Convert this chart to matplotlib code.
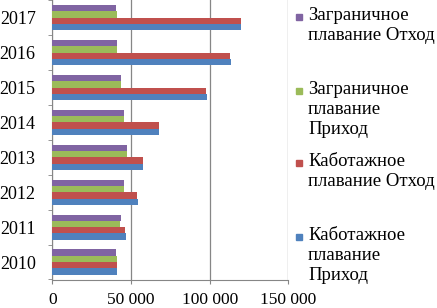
import numpy as np
import matplotlib
matplotlib.use("Agg")
import matplotlib.pyplot as plt
from matplotlib.patches import Rectangle

# ===== data =====
years = ["2010", "2011", "2012", "2013", "2014", "2015", "2016", "2017"]
kab_prihod = [41300, 46800, 54200, 57400, 67900, 98500, 113300, 119700]
kab_othod = [41300, 46400, 54000, 57400, 67500, 97700, 113000, 120000]
zag_prihod = [41000, 43000, 45600, 47700, 45600, 43400, 41000, 41000]
zag_othod = [40500, 43500, 45800, 47700, 45600, 43900, 41300, 40500]

series = [
    ("Каботажное\nплавание\nПриход", kab_prihod, "#4F81BD"),
    ("Каботажное\nплавание Отход", kab_othod, "#C0504D"),
    ("Заграничное\nплавание\nПриход", zag_prihod, "#9BBB59"),
    ("Заграничное\nплавание Отход", zag_othod, "#8064A2"),
]

plt.rcParams['font.family'] = ['Liberation Serif', 'DejaVu Serif']

W, H = 437, 308
fig = plt.figure(figsize=(W / 100, H / 100), dpi=100)
ax = fig.add_axes([52.3 / W, 1 - 279.5 / H, 236 / W, 279.2 / H])

y = np.arange(len(years))
h = 0.18
for k, (label, vals, color) in enumerate(series):
    ax.barh(y + (k - 1.5) * h, vals, height=h, color=color, zorder=3)

ax.set_xlim(0, 150000)
ax.set_ylim(-0.5, len(years) - 0.5)
ax.set_xticks([0, 50000, 100000, 150000])
ax.set_xticklabels(["0", "50 000", "100 000", "150 000"], fontsize=12.5)
ax.set_yticks(y)
ax.set_yticklabels(years, fontsize=13)
ax.set_yticks(np.arange(-0.5, len(years), 1), minor=True)
ax.tick_params(axis='y', which='major', length=0, pad=12)
ax.tick_params(axis='y', which='minor', length=3, color='#868686', direction='out')
ax.tick_params(axis='x', length=3, color='#868686', pad=6)
ax.grid(axis='x', color='#868686', linewidth=0.9, zorder=0)
for s in ['top', 'right']:
    ax.spines[s].set_visible(False)
for s in ['left', 'bottom']:
    ax.spines[s].set_color('#868686')

# ===== legend (top entry first, as in the original) =====
legend_y = [16.7, 90.7, 163, 236.7]
for (label, vals, color), ly in zip(series[::-1], legend_y):
    fig.patches.append(Rectangle((296 / W, 1 - (ly + 3) / H), 6 / W, 6 / H,
                                 transform=fig.transFigure, color=color))
    fig.text(308 / W, 1 - (ly - 10) / H, label, fontsize=13.5, va='top', ha='left',
             linespacing=1.25)

fig.savefig("out.png", dpi=100)
